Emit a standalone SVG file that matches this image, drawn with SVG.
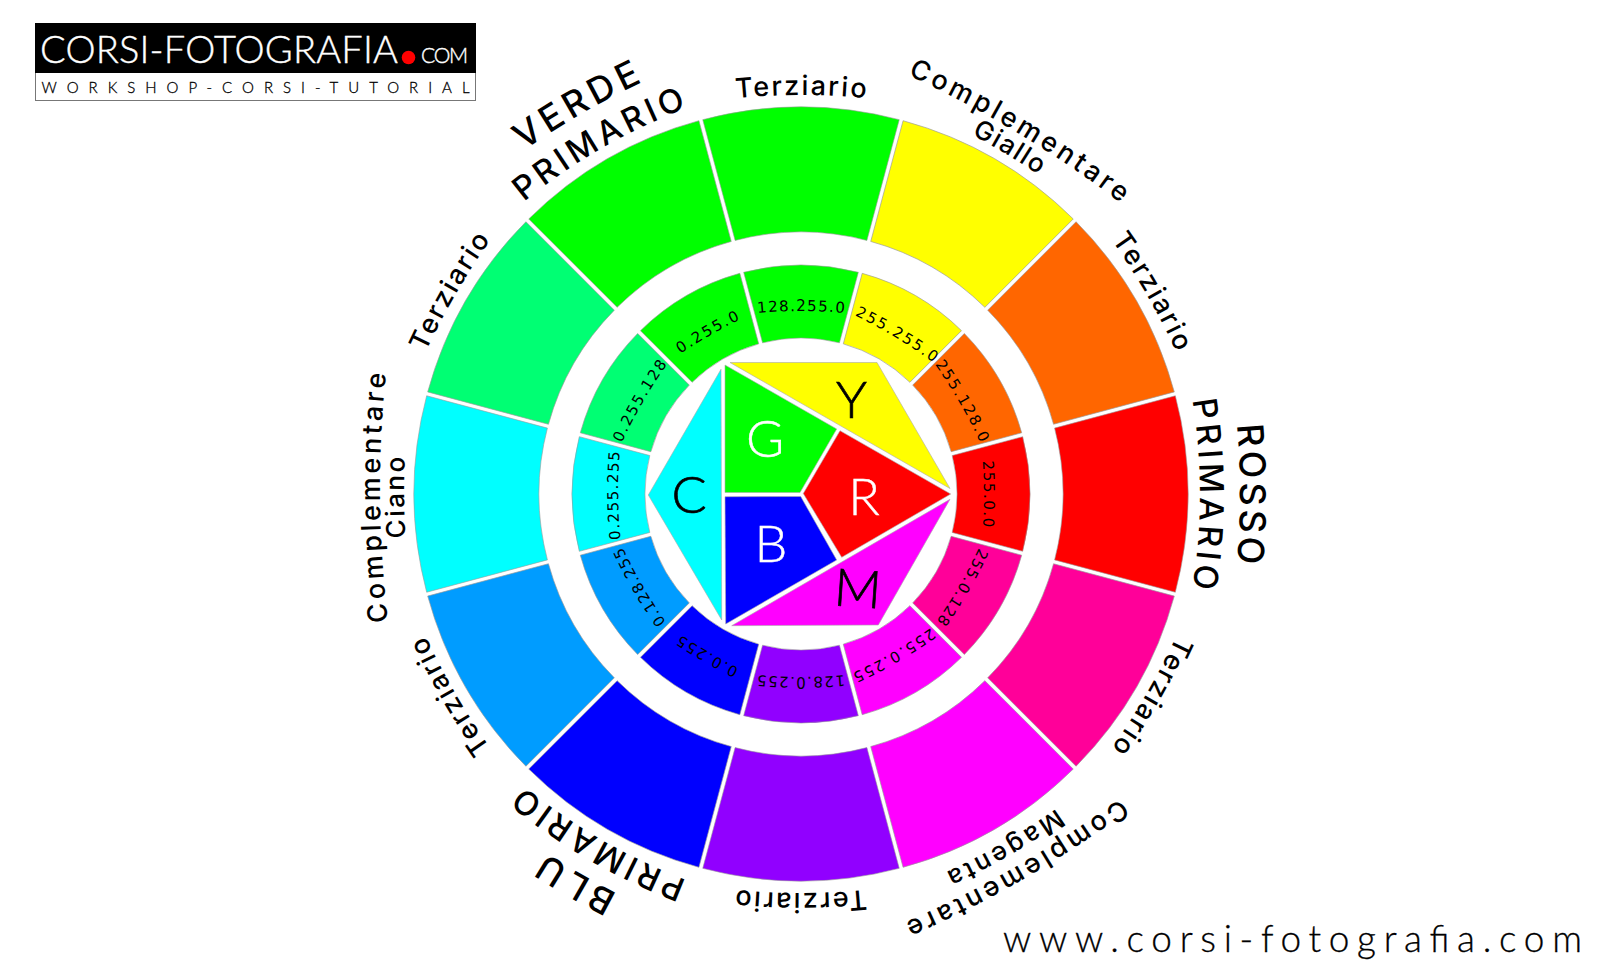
<svg xmlns="http://www.w3.org/2000/svg" width="1600" height="980" viewBox="0 0 1600 980">
<style>
text{font-family:"Inter","Lato","Liberation Sans",sans-serif;fill:#000}
.sec{stroke:#999;stroke-width:.6}
.wd{stroke:#aaa;stroke-width:.6}
.t{font-size:27px;font-weight:500}
.c{font-size:27px;font-weight:500}
.g{font-size:26px;font-weight:500}
.b{font-size:33px;font-weight:500}
.h{font-size:36px;font-weight:500}
.n{font-size:15px;font-family:"DejaVu Sans","Liberation Sans",sans-serif}
.l{font-size:52px;font-family:"Lato","Liberation Sans",sans-serif;font-weight:300}
.lk{stroke:#000;stroke-width:.7}
.lw{fill:#fff;stroke:#fff;stroke-width:.4}
.logo{font-family:Lato,"Liberation Sans",sans-serif;font-weight:300}
.lg{fill:#fff;stroke:#fff;stroke-width:.4}
.ld{stroke:#000;stroke-width:.3}
</style>
<defs>
<path id="so" d="M-98.24,-374.33A387,387 0 0 1 98.24,-374.33L65.88,-253.59A262,262 0 0 0 -65.88,-253.59Z"/>
<path id="si" d="M-57.34,-221.71A229,229 0 0 1 57.34,-221.71L38.44,-151.19A156,156 0 0 0 -38.44,-151.19Z"/>
<path id="at" d="M-120,-388.6A700,700 0 0 1 120,-388.6"/>
<path id="ap" d="M-150,-379.9A600,600 0 0 1 150,-379.9"/>
<path id="as" d="M-120,-429.9A800,800 0 0 1 120,-429.9"/>
<path id="ac" d="M-180,-406.2A1100,1100 0 0 1 180,-406.2"/>
<path id="ag" d="M-80,-392.4A700,700 0 0 1 80,-392.4"/>
<path id="an" d="M-70,-178A500,500 0 0 1 70,-178"/>
</defs>
<rect width="1600" height="980" fill="#fff"/>

<g id="logo">
<rect x="35.5" y="23.5" width="440" height="77" fill="#fff" stroke="#777"/>
<rect x="35" y="23" width="441" height="50" fill="#000"/>
<text class="logo lg" x="40" y="62.5" textLength="358" lengthAdjust="spacing" style="font-size:38px">CORSI-FOTOGRAFIA</text>
<circle cx="408.500" cy="57.500" r="6.800" fill="#f00"/>
<text class="logo lg" x="421" y="62.5" textLength="47" lengthAdjust="spacing" style="font-size:21px">COM</text>
<text class="logo ld" x="41.500" y="92.500" textLength="428" lengthAdjust="spacing" style="font-size:15px">WORKSHOP-CORSI-TUTORIAL</text>
</g>

<g id="wheel">
<g id="seg-terziario-verde" transform="translate(801 494)"><use href="#so" class="sec" fill="#00ff00"/><use href="#si" class="sec" fill="#00ff00"/>
<text class="t" text-anchor="middle"><textPath href="#at" startOffset="50%" textLength="130">Terziario</textPath></text>
<text class="n" text-anchor="middle"><textPath href="#an" startOffset="50%" textLength="87">128.255.0</textPath></text></g>

<g id="seg-giallo" transform="translate(801 494) rotate(31)"><use href="#so" class="sec" fill="#ffff00" transform="rotate(-1)"/><use href="#si" class="sec" fill="#ffff00" transform="rotate(-1)"/>
<text class="c" text-anchor="middle"><textPath href="#ac" startOffset="50%" textLength="249">Complementare</textPath></text>
<text class="g" text-anchor="middle"><textPath href="#ag" startOffset="50%" textLength="78">Giallo</textPath></text>
<text class="n" text-anchor="middle"><textPath href="#an" startOffset="50%" textLength="92">255.255.0</textPath></text></g>

<g id="seg-arancio" transform="translate(801 494) rotate(60)"><use href="#so" class="sec" fill="#ff6600"/><use href="#si" class="sec" fill="#ff6600"/>
<text class="t" text-anchor="middle"><textPath href="#at" startOffset="50%" textLength="130">Terziario</textPath></text>
<text class="n" text-anchor="middle"><textPath href="#an" startOffset="50%" textLength="91">255.128.0</textPath></text></g>

<g id="seg-rosso" transform="translate(801 494) rotate(90)"><use href="#so" class="sec" fill="#ff0000"/><use href="#si" class="sec" fill="#ff0000"/>
<text class="h" text-anchor="middle"><textPath href="#as" startOffset="50%" textLength="139">ROSSO</textPath></text>
<text class="b" text-anchor="middle"><textPath href="#ap" startOffset="50%" textLength="189">PRIMARIO</textPath></text>
<text class="n" text-anchor="middle"><textPath href="#an" startOffset="50%" textLength="66">255.0.0</textPath></text></g>

<g id="seg-rosa" transform="translate(801 494) rotate(120)"><use href="#so" class="sec" fill="#ff0099"/><use href="#si" class="sec" fill="#ff0099"/>
<text class="t" text-anchor="middle"><textPath href="#at" startOffset="50%" textLength="130">Terziario</textPath></text>
<text class="n" text-anchor="middle"><textPath href="#an" startOffset="50%" textLength="85">255.0.128</textPath></text></g>

<g id="seg-magenta" transform="translate(801 494) rotate(150)"><use href="#so" class="sec" fill="#ff00ff"/><use href="#si" class="sec" fill="#ff00ff"/>
<text class="c" text-anchor="middle" transform="translate(0 -9)"><textPath href="#ac" startOffset="50%" textLength="249">Complementare</textPath></text>
<text class="g" text-anchor="middle" transform="translate(0 -6)"><textPath href="#ag" startOffset="50%" textLength="128">Magenta</textPath></text>
<text class="n" text-anchor="middle"><textPath href="#an" startOffset="50%" textLength="91">255.0.255</textPath></text></g>

<g id="seg-viola" transform="translate(801 494) rotate(180)"><use href="#so" class="sec" fill="#9100ff"/><use href="#si" class="sec" fill="#9100ff"/>
<text class="t" text-anchor="middle"><textPath href="#at" startOffset="50%" textLength="130">Terziario</textPath></text>
<text class="n" text-anchor="middle"><textPath href="#an" startOffset="50%" textLength="87">128.0.255</textPath></text></g>

<g id="seg-blu" transform="translate(801 494) rotate(210)"><use href="#so" class="sec" fill="#0000ff"/><use href="#si" class="sec" fill="#0000ff"/>
<text class="h" text-anchor="middle"><textPath href="#as" startOffset="50%" textLength="82">BLU</textPath></text>
<text class="b" text-anchor="middle"><textPath href="#ap" startOffset="50%" textLength="189">PRIMARIO</textPath></text>
<text class="n" text-anchor="middle"><textPath href="#an" startOffset="50%" textLength="67">0.0.255</textPath></text></g>

<g id="seg-azzurro" transform="translate(801 494) rotate(240)"><use href="#so" class="sec" fill="#009cff"/><use href="#si" class="sec" fill="#009cff"/>
<text class="t" text-anchor="middle"><textPath href="#at" startOffset="50%" textLength="130">Terziario</textPath></text>
<text class="n" text-anchor="middle"><textPath href="#an" startOffset="50%" textLength="87">0.128.255</textPath></text></g>

<g id="seg-ciano" transform="translate(801 494) rotate(269.5)"><use href="#so" class="sec" fill="#00ffff" transform="rotate(.5)"/><use href="#si" class="sec" fill="#00ffff" transform="rotate(.5)"/>
<text class="c" text-anchor="middle"><textPath href="#ac" startOffset="50%" textLength="249">Complementare</textPath></text>
<text class="g" text-anchor="middle"><textPath href="#ag" startOffset="50%" textLength="81">Ciano</textPath></text>
<text class="n" text-anchor="middle"><textPath href="#an" startOffset="50%" textLength="88">0.255.255</textPath></text></g>

<g id="seg-primavera" transform="translate(801 494) rotate(300)"><use href="#so" class="sec" fill="#00ff73"/><use href="#si" class="sec" fill="#00ff73"/>
<text class="t" text-anchor="middle"><textPath href="#at" startOffset="50%" textLength="130">Terziario</textPath></text>
<text class="n" text-anchor="middle"><textPath href="#an" startOffset="50%" textLength="91">0.255.128</textPath></text></g>

<g id="seg-verde" transform="translate(801 494) rotate(330)"><use href="#so" class="sec" fill="#00ff00"/><use href="#si" class="sec" fill="#00ff00"/>
<text class="h" text-anchor="middle"><textPath href="#as" startOffset="50%" textLength="137">VERDE</textPath></text>
<text class="b" text-anchor="middle"><textPath href="#ap" startOffset="50%" textLength="189">PRIMARIO</textPath></text>
<text class="n" text-anchor="middle"><textPath href="#an" startOffset="50%" textLength="69">0.255.0</textPath></text></g>
</g>

<g id="core">
<g id="core-y"><polygon class="wd" fill="#ffff00" points="730,362.5 877,362.5 950,488.5"/><text class="l lk" x="851.500" y="418" text-anchor="middle">Y</text></g>
<g id="core-g"><polygon class="wd" fill="#00ff00" points="725,365 725,492.500 800,492.500 836.700,429"/><text class="l lw" x="765" y="456.500" text-anchor="middle">G</text></g>
<g id="core-r"><polygon class="wd" fill="#ff0000" points="803.300,493.500 840,430.700 950.700,494 841.700,557.300"/><text class="l lw" x="864" y="514.500" text-anchor="middle">R</text></g>
<g id="core-b"><polygon class="wd" fill="#0000ff" points="725,496.700 800.700,496.500 836.700,560 725.700,624"/><text class="l lw" x="771" y="562" text-anchor="middle">B</text></g>
<g id="core-m"><polygon class="wd" fill="#ff00ff" points="731.700,625.700 878.300,625 950,499.300"/><text class="l lk" x="856.500" y="607" text-anchor="middle" transform="rotate(4 856.500 607)">M</text></g>
<g id="core-c"><polygon class="wd" fill="#00ffff" points="721,369.300 648.300,495 721.700,620"/><text class="l lk" x="689" y="513" text-anchor="middle">C</text></g>
</g>

<text id="sito" class="logo ld" x="1003" y="951.500" textLength="579" lengthAdjust="spacing" style="font-size:37px">www.corsi-fotografia.com</text>
</svg>
